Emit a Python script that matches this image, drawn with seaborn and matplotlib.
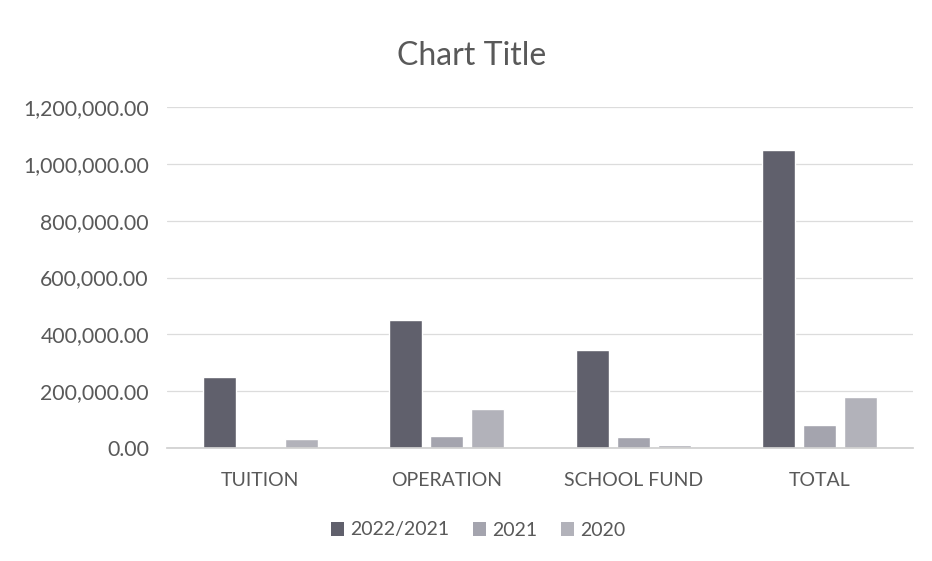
import matplotlib
matplotlib.use("Agg")
import matplotlib.pyplot as plt
import seaborn as sns
import pandas as pd
from matplotlib.ticker import FuncFormatter
from matplotlib.patches import Patch

categories = ["TUITION", "OPERATION", "SCHOOL FUND", "TOTAL"]
series = ["2022/2021", "2021", "2020"]
vals_2022_2021 = [250000, 450000, 344000, 1050000]
vals_2021 = [0, 42000, 38000, 81000]
vals_2020 = [30000, 136000, 10000, 180000]
colors = ["#60606c", "#a4a4ae", "#b2b2ba"]

rows = []
for s, vals in zip(series, [vals_2022_2021, vals_2021, vals_2020]):
    for c, v in zip(categories, vals):
        rows.append({"cat": c, "series": s, "val": v})
df = pd.DataFrame(rows)

sns.set_theme(style="white")
plt.rcParams["font.family"] = ["Lato", "DejaVu Sans"]

fig = plt.figure(figsize=(9.32, 5.61), dpi=100)
ax = fig.add_axes([167/932, 1-448/561, (913-167)/932, (448-107)/561])

sns.barplot(data=df, x="cat", y="val", hue="series", palette=colors,
            width=0.66, gap=0.2, ax=ax, legend=False, saturation=1)

ax.set_xlim(-0.5, 3.5)
ax.set_ylim(0, 1200000)
ax.set_yticks(range(0, 1200001, 200000))
ax.yaxis.set_major_formatter(FuncFormatter(lambda v, p: f"{v:,.2f}"))
ax.set_xlabel("")
ax.set_ylabel("")
ax.grid(axis="y", color="#dcdcdc", linewidth=0.9)
ax.set_axisbelow(True)
for s in ["top", "right", "left"]:
    ax.spines[s].set_visible(False)
ax.spines["bottom"].set_color("#d0d0d0")
ax.tick_params(axis="both", length=0, colors="#595959")
ax.tick_params(axis="y", pad=13, labelsize=15.3)
ax.tick_params(axis="x", pad=17, labelsize=14)

fig.text(472/932, 1-56/561, "Chart Title", ha="center", va="center",
         fontsize=23, color="#595959")

handles = [Patch(facecolor=c, edgecolor="none") for c in colors]
fig.legend(handles, series, loc="center", bbox_to_anchor=(478/932, 1-530/561),
           ncol=3, frameon=False, fontsize=14, handlelength=0.7, handleheight=0.7,
           handletextpad=0.3, columnspacing=1.2, labelcolor="#595959")

fig.savefig("out.png", dpi=100)
